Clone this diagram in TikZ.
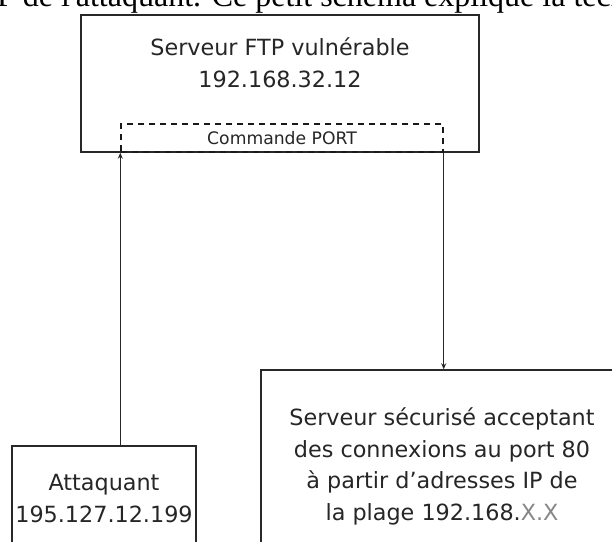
\documentclass[tikz,border=0pt]{standalone}
\usepackage{fontspec}
\setmainfont{DejaVu Sans}
\newfontfamily\pageserif{Liberation Serif}
\usetikzlibrary{positioning, arrows.meta, calc}
\definecolor{boxline}{RGB}{40,40,40}
\definecolor{greyx}{RGB}{135,135,135}
\tikzstyle{hostbox} = [rectangle, draw=boxline, line width=1.4pt, inner sep=0pt]
\tikzstyle{hosttext} = [align=center, anchor=north, inner sep=0pt, text=black!85, font=\fontsize{22.3}{32}\selectfont]
\tikzstyle{portbox} = [rectangle, draw=black!90, dash pattern=on 6pt off 5pt, line width=1.4pt, minimum width=322pt, minimum height=28pt, inner sep=0pt, text=black!85, font=\fontsize{17.2}{19}\selectfont]
\tikzstyle{arrow} = [-{Stealth[length=6pt,width=5pt]}, line width=1.4pt, draw=boxline]

\begin{document}
\begin{tikzpicture}[x=1pt, y=-1pt]
  \useasboundingbox (0,0) rectangle (612,541);
  \clip (0,0) rectangle (612,541);
  \fill[white] (0,0) rectangle (612,541);

  %texte de la page, coupe en haut
  \node (pagetext) [anchor=base west, inner sep=0pt, font=\pageserif\fontsize{32}{36}\selectfont] at (-3,6) {P de l'attaquant. Ce petit schéma explique la technique};

  %les machines
  \node (ftp) [hostbox, minimum width=398pt, minimum height=137pt] at (280,83.5) {};
  \node (ftptext) [hosttext] at (280,37.5) {Serveur FTP vulnérable \\ 192.168.32.12};
  \node (port) [portbox] at (282,138) {Commande PORT};
  \node (attacker) [hostbox, minimum width=184pt, minimum height=174pt] at (104,533) {};
  \node (attackertext) [hosttext] at (104,474) {Attaquant \\ 195.127.12.199};
  \node (server) [hostbox, minimum width=439pt, minimum height=250pt] at (480.5,495) {};
  \node (servertext) [hosttext, font=\fontsize{22.3}{31.5}\selectfont] at (442,407.5) {Serveur sécurisé acceptant \\ des connexions au port 80 \\ à partir d'adresses IP de \\ la plage 192.168.\textcolor{greyx}{X.X}};

  %les connexions
  \draw [arrow] (attacker.north -| port.south west) -- (port.south west);
  \draw [arrow] (port.south east) -- (port.south east |- server.north);
\end{tikzpicture}
\end{document}
